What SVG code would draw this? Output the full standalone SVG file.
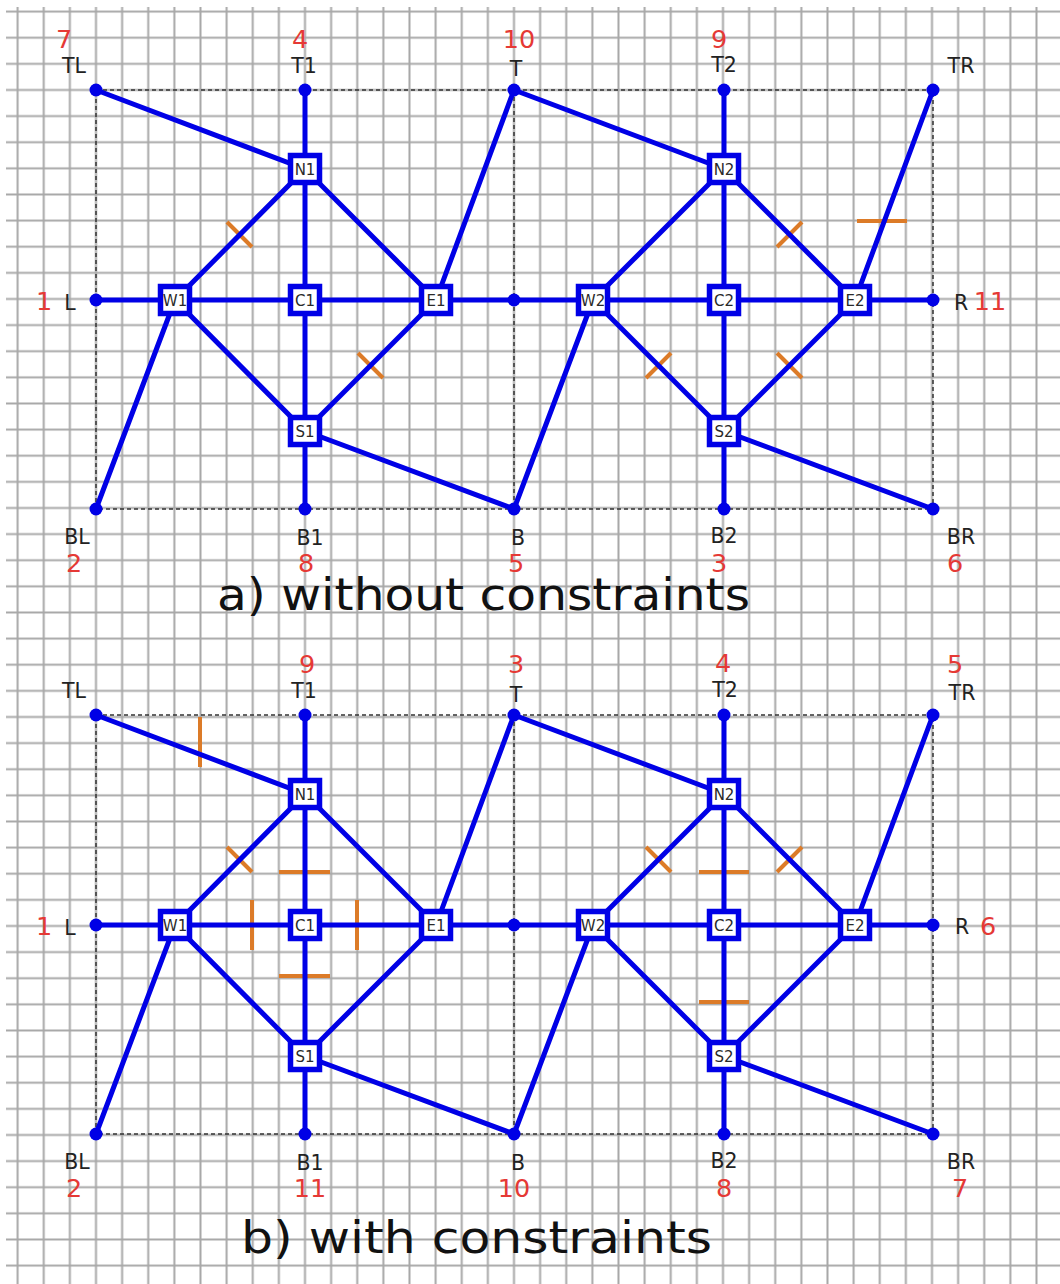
<svg xmlns="http://www.w3.org/2000/svg" width="1060" height="1284" viewBox="0 0 1060 1284">
<defs>
<pattern id="grid" patternUnits="userSpaceOnUse" x="4.56" y="-1.46" width="26.125" height="26.125">
<path d="M13.06 0 V26.125 M0 13.06 H26.125" stroke="#a8a8a8" stroke-width="2" fill="none"/>
</pattern>
<style>
.e{stroke:#0000e6;stroke-width:5;fill:none;stroke-linecap:round}
.d{stroke:#333;stroke-width:1.5;stroke-dasharray:4 3;fill:none}
.k{stroke:#dc7b28;stroke-width:4;fill:none}
.n rect{fill:#fff;stroke:#0000e6;stroke-width:5.5}
.n text{font-family:"DejaVu Sans",sans-serif;font-size:15px;fill:#2a2a2a;text-anchor:middle}
.p circle{fill:#0000e6}
text{font-family:"DejaVu Sans",sans-serif}
.lb{font-size:20.5px;fill:#222;text-anchor:middle}
.nm{font-size:25.5px;fill:#e53935;text-anchor:middle}
.cap{font-size:45px;fill:#111}
</style>
</defs>
<rect width="1060" height="1284" fill="#fff"/>
<rect x="6" y="7" width="1054" height="1277" fill="url(#grid)"/>

<!-- Panel a -->
<g id="panel-a">
<g id="guides-a">
<path class="d" d="M96 90 H933 V509 H96 Z M514 90 V509"/>
</g>
<g id="ticks-a">
<line class="k" x1="227" y1="222" x2="252" y2="247"/>
<line class="k" x1="358" y1="353" x2="383" y2="378"/>
<line class="k" x1="777" y1="247" x2="802" y2="222"/>
<line class="k" x1="857" y1="221" x2="907" y2="221"/>
<line class="k" x1="646" y1="378" x2="671" y2="353"/>
<line class="k" x1="777" y1="353" x2="802" y2="378"/>
</g>
<g id="connectors-a">
<line class="e" x1="96" y1="90" x2="305" y2="169"/>
<line class="e" x1="305" y1="90" x2="305" y2="169"/>
<line class="e" x1="305" y1="169" x2="305" y2="300"/>
<line class="e" x1="305" y1="300" x2="305" y2="431"/>
<line class="e" x1="305" y1="431" x2="305" y2="509"/>
<line class="e" x1="96" y1="300" x2="175" y2="300"/>
<line class="e" x1="175" y1="300" x2="305" y2="300"/>
<line class="e" x1="305" y1="300" x2="436" y2="300"/>
<line class="e" x1="436" y1="300" x2="514" y2="300"/>
<line class="e" x1="514" y1="300" x2="593" y2="300"/>
<line class="e" x1="593" y1="300" x2="724" y2="300"/>
<line class="e" x1="724" y1="300" x2="855" y2="300"/>
<line class="e" x1="855" y1="300" x2="933" y2="300"/>
<line class="e" x1="305" y1="169" x2="175" y2="300"/>
<line class="e" x1="305" y1="169" x2="436" y2="300"/>
<line class="e" x1="175" y1="300" x2="305" y2="431"/>
<line class="e" x1="305" y1="431" x2="436" y2="300"/>
<line class="e" x1="175" y1="300" x2="96" y2="509"/>
<line class="e" x1="436" y1="300" x2="514" y2="90"/>
<line class="e" x1="305" y1="431" x2="514" y2="509"/>
<line class="e" x1="514" y1="90" x2="724" y2="169"/>
<line class="e" x1="593" y1="300" x2="514" y2="509"/>
<line class="e" x1="724" y1="169" x2="593" y2="300"/>
<line class="e" x1="724" y1="169" x2="855" y2="300"/>
<line class="e" x1="593" y1="300" x2="724" y2="431"/>
<line class="e" x1="724" y1="431" x2="855" y2="300"/>
<line class="e" x1="724" y1="90" x2="724" y2="169"/>
<line class="e" x1="724" y1="169" x2="724" y2="300"/>
<line class="e" x1="724" y1="300" x2="724" y2="431"/>
<line class="e" x1="724" y1="431" x2="724" y2="509"/>
<line class="e" x1="855" y1="300" x2="933" y2="90"/>
<line class="e" x1="724" y1="431" x2="933" y2="509"/>
</g>
<g id="a-TL" class="p"><circle cx="96" cy="90" r="6.5"/><text class="lb" x="74" y="73">TL</text><text class="nm" x="64" y="48">7</text></g>
<g id="a-T1" class="p"><circle cx="305" cy="90" r="6.5"/><text class="lb" x="304" y="73">T1</text><text class="nm" x="300" y="48">4</text></g>
<g id="a-T" class="p"><circle cx="514" cy="90" r="6.5"/><text class="lb" x="516" y="76">T</text><text class="nm" x="519" y="48">10</text></g>
<g id="a-T2" class="p"><circle cx="724" cy="90" r="6.5"/><text class="lb" x="724" y="72">T2</text><text class="nm" x="719" y="48">9</text></g>
<g id="a-TR" class="p"><circle cx="933" cy="90" r="6.5"/><text class="lb" x="961" y="73">TR</text></g>
<g id="a-L" class="p"><circle cx="96" cy="300" r="6.5"/><text class="lb" x="70" y="310">L</text><text class="nm" x="44" y="310">1</text></g>
<g id="a-M" class="p"><circle cx="514" cy="300" r="6.5"/></g>
<g id="a-R" class="p"><circle cx="933" cy="300" r="6.5"/><text class="lb" x="961" y="310">R</text><text class="nm" x="990" y="310">11</text></g>
<g id="a-BL" class="p"><circle cx="96" cy="509" r="6.5"/><text class="lb" x="77" y="544">BL</text><text class="nm" x="74" y="572">2</text></g>
<g id="a-B1" class="p"><circle cx="305" cy="509" r="6.5"/><text class="lb" x="310" y="545">B1</text><text class="nm" x="306" y="572">8</text></g>
<g id="a-B" class="p"><circle cx="514" cy="509" r="6.5"/><text class="lb" x="518" y="545">B</text><text class="nm" x="516" y="572">5</text></g>
<g id="a-B2" class="p"><circle cx="724" cy="509" r="6.5"/><text class="lb" x="724" y="543">B2</text><text class="nm" x="719" y="572">3</text></g>
<g id="a-BR" class="p"><circle cx="933" cy="509" r="6.5"/><text class="lb" x="961" y="544">BR</text><text class="nm" x="955" y="572">6</text></g>
<g id="a-N1" class="n" transform="translate(305,169)"><rect x="-14.5" y="-13.5" width="29" height="27"/><text y="5.5">N1</text></g>
<g id="a-W1" class="n" transform="translate(175,300)"><rect x="-14.5" y="-13.5" width="29" height="27"/><text y="5.5">W1</text></g>
<g id="a-C1" class="n" transform="translate(305,300)"><rect x="-14.5" y="-13.5" width="29" height="27"/><text y="5.5">C1</text></g>
<g id="a-E1" class="n" transform="translate(436,300)"><rect x="-14.5" y="-13.5" width="29" height="27"/><text y="5.5">E1</text></g>
<g id="a-S1" class="n" transform="translate(305,431)"><rect x="-14.5" y="-13.5" width="29" height="27"/><text y="5.5">S1</text></g>
<g id="a-N2" class="n" transform="translate(724,169)"><rect x="-14.5" y="-13.5" width="29" height="27"/><text y="5.5">N2</text></g>
<g id="a-W2" class="n" transform="translate(593,300)"><rect x="-14.5" y="-13.5" width="29" height="27"/><text y="5.5">W2</text></g>
<g id="a-C2" class="n" transform="translate(724,300)"><rect x="-14.5" y="-13.5" width="29" height="27"/><text y="5.5">C2</text></g>
<g id="a-E2" class="n" transform="translate(855,300)"><rect x="-14.5" y="-13.5" width="29" height="27"/><text y="5.5">E2</text></g>
<g id="a-S2" class="n" transform="translate(724,431)"><rect x="-14.5" y="-13.5" width="29" height="27"/><text y="5.5">S2</text></g>
<text class="cap" x="217" y="610" textLength="533" lengthAdjust="spacingAndGlyphs">a) without constraints</text>
</g>

<!-- Panel b -->
<g id="panel-b" transform="translate(0,625)">
<g id="guides-b">
<path class="d" d="M96 90 H933 V509 H96 Z M514 90 V509"/>
</g>
<g id="ticks-b">
<line class="k" x1="200" y1="92" x2="200" y2="142"/>
<line class="k" x1="227" y1="222" x2="252" y2="247"/>
<line class="k" x1="279" y1="247" x2="330" y2="247"/>
<line class="k" x1="252" y1="275" x2="252" y2="325"/>
<line class="k" x1="357" y1="275" x2="357" y2="325"/>
<line class="k" x1="279" y1="351" x2="330" y2="351"/>
<line class="k" x1="646" y1="222" x2="671" y2="247"/>
<line class="k" x1="777" y1="247" x2="802" y2="222"/>
<line class="k" x1="699" y1="247" x2="749" y2="247"/>
<line class="k" x1="699" y1="377" x2="749" y2="377"/>
</g>
<g id="connectors-b">
<line class="e" x1="96" y1="90" x2="305" y2="169"/>
<line class="e" x1="305" y1="90" x2="305" y2="169"/>
<line class="e" x1="305" y1="169" x2="305" y2="300"/>
<line class="e" x1="305" y1="300" x2="305" y2="431"/>
<line class="e" x1="305" y1="431" x2="305" y2="509"/>
<line class="e" x1="96" y1="300" x2="175" y2="300"/>
<line class="e" x1="175" y1="300" x2="305" y2="300"/>
<line class="e" x1="305" y1="300" x2="436" y2="300"/>
<line class="e" x1="436" y1="300" x2="514" y2="300"/>
<line class="e" x1="514" y1="300" x2="593" y2="300"/>
<line class="e" x1="593" y1="300" x2="724" y2="300"/>
<line class="e" x1="724" y1="300" x2="855" y2="300"/>
<line class="e" x1="855" y1="300" x2="933" y2="300"/>
<line class="e" x1="305" y1="169" x2="175" y2="300"/>
<line class="e" x1="305" y1="169" x2="436" y2="300"/>
<line class="e" x1="175" y1="300" x2="305" y2="431"/>
<line class="e" x1="305" y1="431" x2="436" y2="300"/>
<line class="e" x1="175" y1="300" x2="96" y2="509"/>
<line class="e" x1="436" y1="300" x2="514" y2="90"/>
<line class="e" x1="305" y1="431" x2="514" y2="509"/>
<line class="e" x1="514" y1="90" x2="724" y2="169"/>
<line class="e" x1="593" y1="300" x2="514" y2="509"/>
<line class="e" x1="724" y1="169" x2="593" y2="300"/>
<line class="e" x1="724" y1="169" x2="855" y2="300"/>
<line class="e" x1="593" y1="300" x2="724" y2="431"/>
<line class="e" x1="724" y1="431" x2="855" y2="300"/>
<line class="e" x1="724" y1="90" x2="724" y2="169"/>
<line class="e" x1="724" y1="169" x2="724" y2="300"/>
<line class="e" x1="724" y1="300" x2="724" y2="431"/>
<line class="e" x1="724" y1="431" x2="724" y2="509"/>
<line class="e" x1="855" y1="300" x2="933" y2="90"/>
<line class="e" x1="724" y1="431" x2="933" y2="509"/>
</g>
<g id="b-TL" class="p"><circle cx="96" cy="90" r="6.5"/><text class="lb" x="74" y="73">TL</text></g>
<g id="b-T1" class="p"><circle cx="305" cy="90" r="6.5"/><text class="lb" x="304" y="73">T1</text><text class="nm" x="307" y="48">9</text></g>
<g id="b-T" class="p"><circle cx="514" cy="90" r="6.5"/><text class="lb" x="516" y="77">T</text><text class="nm" x="516" y="48">3</text></g>
<g id="b-T2" class="p"><circle cx="724" cy="90" r="6.5"/><text class="lb" x="725" y="72">T2</text><text class="nm" x="723" y="47">4</text></g>
<g id="b-TR" class="p"><circle cx="933" cy="90" r="6.5"/><text class="lb" x="962" y="75">TR</text><text class="nm" x="955" y="48">5</text></g>
<g id="b-L" class="p"><circle cx="96" cy="300" r="6.5"/><text class="lb" x="70" y="310">L</text><text class="nm" x="44" y="310">1</text></g>
<g id="b-M" class="p"><circle cx="514" cy="300" r="6.5"/></g>
<g id="b-R" class="p"><circle cx="933" cy="300" r="6.5"/><text class="lb" x="962" y="309">R</text><text class="nm" x="988" y="310">6</text></g>
<g id="b-BL" class="p"><circle cx="96" cy="509" r="6.5"/><text class="lb" x="77" y="544">BL</text><text class="nm" x="74" y="572">2</text></g>
<g id="b-B1" class="p"><circle cx="305" cy="509" r="6.5"/><text class="lb" x="310" y="545">B1</text><text class="nm" x="310" y="572">11</text></g>
<g id="b-B" class="p"><circle cx="514" cy="509" r="6.5"/><text class="lb" x="518" y="545">B</text><text class="nm" x="514" y="572">10</text></g>
<g id="b-B2" class="p"><circle cx="724" cy="509" r="6.5"/><text class="lb" x="724" y="543">B2</text><text class="nm" x="724" y="572">8</text></g>
<g id="b-BR" class="p"><circle cx="933" cy="509" r="6.5"/><text class="lb" x="961" y="544">BR</text><text class="nm" x="960" y="572">7</text></g>
<g id="b-N1" class="n" transform="translate(305,169)"><rect x="-14.5" y="-13.5" width="29" height="27"/><text y="5.5">N1</text></g>
<g id="b-W1" class="n" transform="translate(175,300)"><rect x="-14.5" y="-13.5" width="29" height="27"/><text y="5.5">W1</text></g>
<g id="b-C1" class="n" transform="translate(305,300)"><rect x="-14.5" y="-13.5" width="29" height="27"/><text y="5.5">C1</text></g>
<g id="b-E1" class="n" transform="translate(436,300)"><rect x="-14.5" y="-13.5" width="29" height="27"/><text y="5.5">E1</text></g>
<g id="b-S1" class="n" transform="translate(305,431)"><rect x="-14.5" y="-13.5" width="29" height="27"/><text y="5.5">S1</text></g>
<g id="b-N2" class="n" transform="translate(724,169)"><rect x="-14.5" y="-13.5" width="29" height="27"/><text y="5.5">N2</text></g>
<g id="b-W2" class="n" transform="translate(593,300)"><rect x="-14.5" y="-13.5" width="29" height="27"/><text y="5.5">W2</text></g>
<g id="b-C2" class="n" transform="translate(724,300)"><rect x="-14.5" y="-13.5" width="29" height="27"/><text y="5.5">C2</text></g>
<g id="b-E2" class="n" transform="translate(855,300)"><rect x="-14.5" y="-13.5" width="29" height="27"/><text y="5.5">E2</text></g>
<g id="b-S2" class="n" transform="translate(724,431)"><rect x="-14.5" y="-13.5" width="29" height="27"/><text y="5.5">S2</text></g>
<text class="cap" x="241" y="628" textLength="471" lengthAdjust="spacingAndGlyphs">b) with constraints</text>
</g>
</svg>
